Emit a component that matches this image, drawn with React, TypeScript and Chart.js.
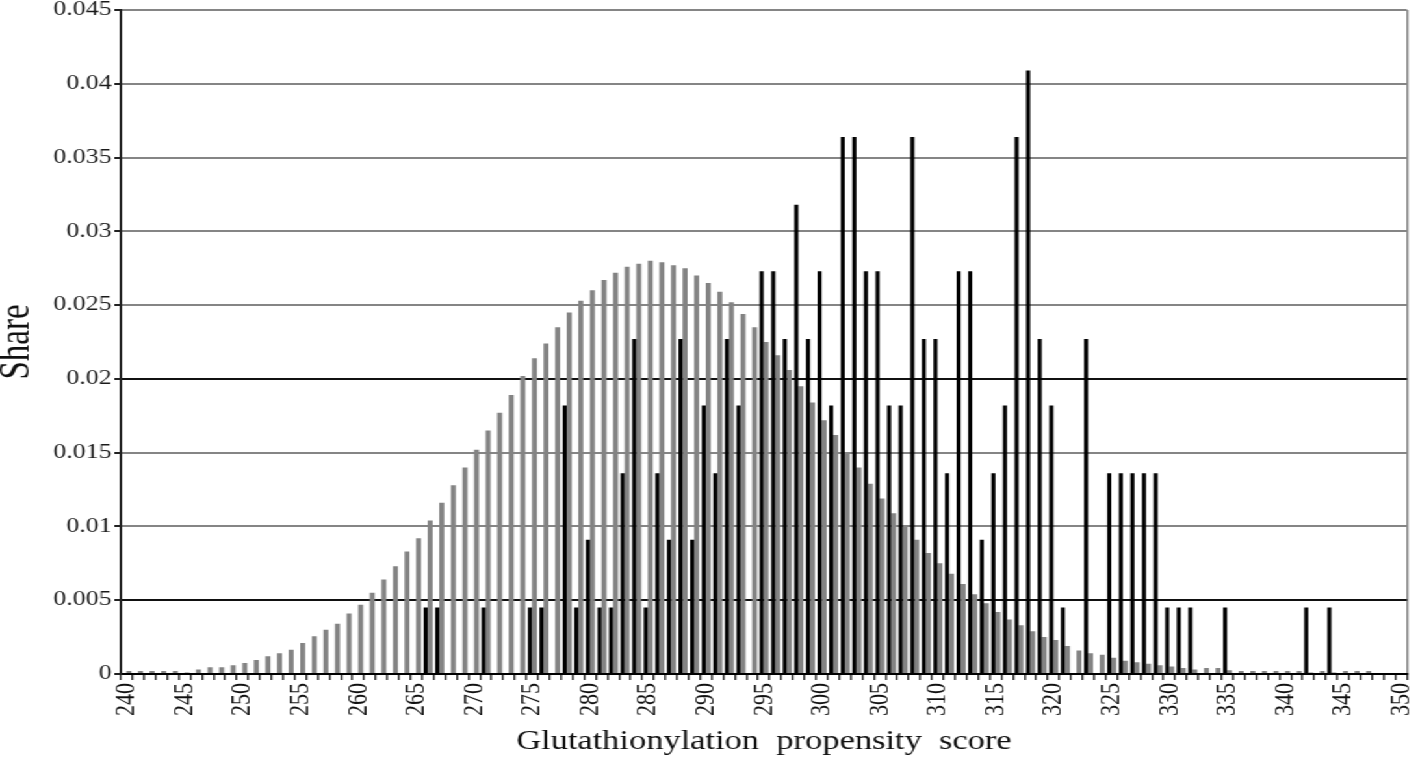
import React, { useEffect, useRef } from "react";
import { Chart, registerables } from "chart.js";

Chart.register(...registerables);

// Glutathionylation propensity score categories (240 … 350)
const SCORES: number[] = [
  240, 241, 242, 243, 244, 245, 246, 247, 248, 249,
  250, 251, 252, 253, 254, 255, 256, 257, 258, 259,
  260, 261, 262, 263, 264, 265, 266, 267, 268, 269,
  270, 271, 272, 273, 274, 275, 276, 277, 278, 279,
  280, 281, 282, 283, 284, 285, 286, 287, 288, 289,
  290, 291, 292, 293, 294, 295, 296, 297, 298, 299,
  300, 301, 302, 303, 304, 305, 306, 307, 308, 309,
  310, 311, 312, 313, 314, 315, 316, 317, 318, 319,
  320, 321, 322, 323, 324, 325, 326, 327, 328, 329,
  330, 331, 332, 333, 334, 335, 336, 337, 338, 339,
  340, 341, 342, 343, 344, 345, 346, 347, 348, 349,
  350,
];

// Sample share (black bars)
const SAMPLE_SHARE: number[] = [
  0, 0, 0, 0, 0, 0, 0, 0, 0, 0, // 240-249
  0, 0, 0, 0, 0, 0, 0, 0, 0, 0, // 250-259
  0, 0, 0, 0, 0, 0, 0.0045, 0.0045, 0, 0, // 260-269
  0, 0.0045, 0, 0, 0, 0.0045, 0.0045, 0, 0.0182, 0.0045, // 270-279
  0.0091, 0.0045, 0.0045, 0.0136, 0.0227, 0.0045, 0.0136, 0.0091, 0.0227, 0.0091, // 280-289
  0.0182, 0.0136, 0.0227, 0.0182, 0, 0.0273, 0.0273, 0.0227, 0.0318, 0.0227, // 290-299
  0.0273, 0.0182, 0.0364, 0.0364, 0.0273, 0.0273, 0.0182, 0.0182, 0.0364, 0.0227, // 300-309
  0.0227, 0.0136, 0.0273, 0.0273, 0.0091, 0.0136, 0.0182, 0.0364, 0.0409, 0.0227, // 310-319
  0.0182, 0.0045, 0, 0.0227, 0, 0.0136, 0.0136, 0.0136, 0.0136, 0.0136, // 320-329
  0.0045, 0.0045, 0.0045, 0, 0, 0.0045, 0, 0, 0, 0, // 330-339
  0, 0, 0.0045, 0, 0.0045, 0, 0, 0, 0, 0, // 340-349
  0, // 350
];

// Reference distribution share (grey bars)
const REFERENCE_SHARE: number[] = [
  0.0002, 0.0002, 0.0002, 0.0002, 0.0002, 0.0001, 0.0003, 0.00045, 0.00045, 0.0006, // 240-249
  0.00075, 0.00095, 0.0012, 0.0014, 0.00165, 0.0021, 0.00255, 0.003, 0.0034, 0.0041, // 250-259
  0.0047, 0.0055, 0.0064, 0.0073, 0.0083, 0.0092, 0.0104, 0.0116, 0.0128, 0.014, // 260-269
  0.0152, 0.0165, 0.0177, 0.0189, 0.0202, 0.0214, 0.0224, 0.0235, 0.0245, 0.0253, // 270-279
  0.026, 0.0267, 0.0272, 0.0276, 0.0278, 0.028, 0.0279, 0.0277, 0.0275, 0.027, // 280-289
  0.0265, 0.0259, 0.0252, 0.0244, 0.0235, 0.0225, 0.0216, 0.0206, 0.0195, 0.0184, // 290-299
  0.0172, 0.0162, 0.015, 0.014, 0.0129, 0.0119, 0.0109, 0.0101, 0.0091, 0.0082, // 300-309
  0.0075, 0.0068, 0.0061, 0.0054, 0.0048, 0.0042, 0.0037, 0.0033, 0.0029, 0.0025, // 310-319
  0.0023, 0.0019, 0.0016, 0.0014, 0.0013, 0.0011, 0.0009, 0.0008, 0.0007, 0.0006, // 320-329
  0.0005, 0.0004, 0.0003, 0.0004, 0.0004, 0.00025, 0.0002, 0.0002, 0.0002, 0.0002, // 330-339
  0.0002, 0.0002, 0.0001, 0.0002, 0.0001, 0.0002, 0.0002, 0.0002, 0, 0, // 340-349
  0, // 350
];

const Y_TICKS: number[] = [0, 0.005, 0.01, 0.015, 0.02, 0.025, 0.03, 0.035, 0.04, 0.045];
const DARK_GRID_VALUES: number[] = [0.005, 0.02];

const X_TITLE = "Glutathionylation  propensity  score";
const Y_TITLE = "Share";

const FONT = "'Liberation Serif', 'Times New Roman', serif";
const STRETCH = 1418 / 1091;

export default function App() {
  const canvasRef = useRef<HTMLCanvasElement | null>(null);

  useEffect(() => {
    const canvas = canvasRef.current;
    if (!canvas) return;
    const chart = new Chart(canvas, {
      type: "bar",
      data: {
        labels: SCORES.map(String),
        datasets: [
          {
            label: "Sample",
            data: SAMPLE_SHARE,
            backgroundColor: "#000000",
            borderWidth: 0,
            barPercentage: 0.9,
            categoryPercentage: 0.78,
          },
          {
            label: "Reference",
            data: REFERENCE_SHARE,
            backgroundColor: "#838383",
            borderWidth: 0,
            barPercentage: 1.1,
            categoryPercentage: 0.78,
          },
        ],
      },
      options: {
        animation: false,
        responsive: true,
        maintainAspectRatio: false,
        layout: { padding: { top: 10, right: 8.5, bottom: 0, left: 0 } },
        plugins: {
          legend: { display: false },
          tooltip: { enabled: false },
        },
        scales: {
          x: {
            afterFit: (s: any) => {
              s.height = 86;
              s.paddingLeft = 0;
              s.paddingRight = 0;
            },
            border: { display: true, color: "#000000", width: 2 },
            grid: {
              display: true,
              drawOnChartArea: true,
              drawTicks: true,
              tickLength: 6,
              lineWidth: 1.6,
              color: (ctx: any) =>
                ctx.type === "scale" ? "#8a8a8a" : "rgba(0,0,0,0)",
              tickColor: "#000000",
              tickWidth: 1.2,
            },
            ticks: {
              autoSkip: false,
              minRotation: 90,
              maxRotation: 90,
              padding: 3,
              color: "#111111",
              font: { family: FONT, size: 22 },
              callback: (_v: any, i: number) =>
                SCORES[i] % 5 === 0 ? String(SCORES[i]) : "",
            },
            title: {
              display: true,
              text: X_TITLE,
              color: "#111111",
              font: { family: FONT, size: 26.5 },
              padding: { top: 0, bottom: 2 },
            },
          },
          y: {
            min: 0,
            max: 0.045,
            afterFit: (s: any) => {
              s.width = 93;
              s.paddingTop = 0;
              s.paddingBottom = 0;
            },
            afterBuildTicks: (s: any) => {
              s.ticks = Y_TICKS.map((v) => ({ value: v }));
            },
            border: { display: true, color: "#222222", width: 2 },
            grid: {
              drawTicks: true,
              tickLength: 5,
              lineWidth: 2,
              color: (ctx: any) =>
                ctx.tick && DARK_GRID_VALUES.some((d) => Math.abs(d - ctx.tick.value) < 1e-9)
                  ? "#111111"
                  : "#858585",
              tickColor: "#222222",
            },
            ticks: {
              padding: 2,
              color: "#1a1a1a",
              font: { family: FONT, size: 20 },
              callback: (v: any) => String(Math.round(Number(v) * 1000) / 1000),
            },
            title: {
              display: true,
              text: Y_TITLE,
              color: "#111111",
              font: { family: FONT, size: 33, lineHeight: 0.8 },
              padding: 0,
            },
          },
        },
      },
    });
    return () => chart.destroy();
  }, []);

  return (
    <div
      style={{
        position: "fixed",
        left: 0,
        top: 0,
        width: "1091px",
        height: "760px",
        background: "#ffffff",
        transform: `scaleX(${STRETCH})`,
        transformOrigin: "0 0",
      }}
    >
      <canvas ref={canvasRef} />
    </div>
  );
}
